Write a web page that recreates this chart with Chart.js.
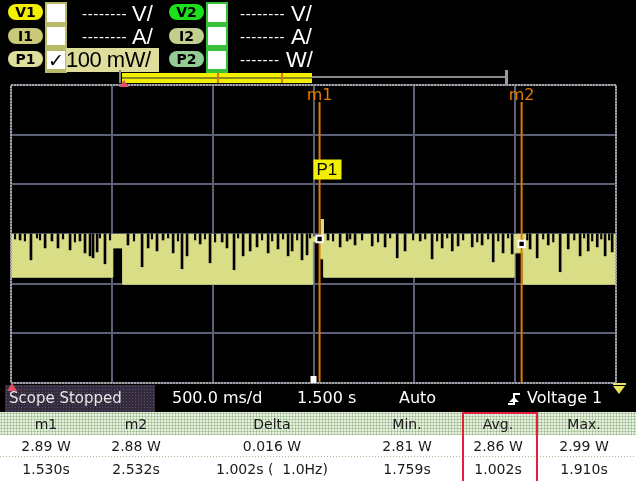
<!DOCTYPE html>
<html>
<head>
<meta charset="utf-8">
<script src="https://cdn.jsdelivr.net/npm/chart.js@4/dist/chart.umd.min.js"></script>
<style>
  html, body { margin: 0; padding: 0; background: #000; }
  #screen { position: relative; width: 636px; height: 481px; background: #000; overflow: hidden; font-family: "DejaVu Sans", sans-serif; }
  #scope { position: absolute; left: 0; top: 0; }
  .abs { position: absolute; }
  .pill { position: absolute; width: 35px; height: 16px; border-radius: 8px; font: bold 14px "DejaVu Sans", sans-serif; line-height: 16px; text-align: center; color: #000; }
  .chk { position: absolute; width: 18px; height: 18px; background: #fff; }
  .dash { position: absolute; color: #fff; font: 14px "DejaVu Sans", sans-serif; letter-spacing: 0.6px; line-height: 20px; }
  .unit { position: absolute; color: #fff; font: 22px "Liberation Sans", sans-serif; line-height: 22px; }
  .stat { position: absolute; top: 388px; color: #fff; font: 16px "DejaVu Sans", sans-serif; line-height: 20px; white-space: pre; }
  #table { position: absolute; left: 0; top: 412px; width: 636px; height: 69px; background: #fff; }
  .hdr { position: absolute; left: 0; top: 0; width: 636px; height: 23px;
         background-color: #e6eedf;
         background-image: radial-gradient(#94b884 0.9px, transparent 1.1px);
         background-size: 3px 3px; }
  .cell { position: absolute; width: 140px; margin-left: -70px; text-align: center; color: #1a1a1a; font: 14px "DejaVu Sans", sans-serif; line-height: 20px; white-space: pre; }
  .sep { position: absolute; left: 0; top: 44px; width: 636px; height: 1px;
         background-image: linear-gradient(90deg, #9fbf90 50%, transparent 50%); background-size: 3px 1px; }
</style>
</head>
<body>
<div id="screen">
  <canvas id="scope" width="636" height="481"></canvas>

  <!-- channel header -->
  <div class="pill" style="left:8px; top:4px; background:#f2f000;">V1</div>
  <div class="pill" style="left:8px; top:28px; background:#c9c979;">I1</div>
  <div class="pill" style="left:8px; top:51px; background:#dedd9c;">P1</div>
  <div class="abs" style="left:45px; top:2px; width:22px; height:71px; background:#b9b968;"></div>
  <div class="chk" style="left:47px; top:4px;"></div>
  <div class="chk" style="left:47px; top:27px;"></div>
  <div class="abs" style="left:66px; top:48px; width:93px; height:24px; background:#dedd9c;"></div>
  <div class="chk" style="left:47px; top:51px;"></div>
  <div class="abs" style="left:48px; top:49px; font:bold 19px 'DejaVu Sans'; line-height:22px; color:#000;">✓</div>
  <div class="abs" style="left:66px; top:49px; font:22px 'Liberation Sans'; line-height:22px; color:#000; letter-spacing:-0.5px;">100 mW/</div>
  <div class="dash" style="left:82px; top:4px;">--------</div>
  <div class="unit" style="left:132px; top:3px;">V/</div>
  <div class="dash" style="left:82px; top:27px;">--------</div>
  <div class="unit" style="left:132px; top:26px;">A/</div>

  <div class="pill" style="left:169px; top:4px; background:#1de01d;">V2</div>
  <div class="pill" style="left:169px; top:28px; background:#c3cf8c;">I2</div>
  <div class="pill" style="left:169px; top:51px; background:#92cc92;">P2</div>
  <div class="abs" style="left:206px; top:2px; width:22px; height:71px; background:#38c038;"></div>
  <div class="chk" style="left:208px; top:4px;"></div>
  <div class="chk" style="left:208px; top:27px;"></div>
  <div class="chk" style="left:208px; top:51px;"></div>
  <div class="dash" style="left:240px; top:4px;">--------</div>
  <div class="unit" style="left:291px; top:3px;">V/</div>
  <div class="dash" style="left:240px; top:27px;">--------</div>
  <div class="unit" style="left:291px; top:26px;">A/</div>
  <div class="dash" style="left:240px; top:50px;">-------</div>
  <div class="unit" style="left:286px; top:49px;">W/</div>

  <!-- record overview bar -->
  <div class="abs" style="left:119px; top:70px; width:2px; height:13px; background:#8a8a8a;"></div>
  <div class="abs" style="left:122px; top:73px; width:190px; height:10px; background:#f2f000;"></div>
  <div class="abs" style="left:122px; top:77px; width:190px; height:2px; background:#8a8a20;"></div>
  <div class="abs" style="left:217px; top:73px; width:2px; height:10px; background:#d87800;"></div>
  <div class="abs" style="left:281px; top:73px; width:2px; height:10px; background:#d87800;"></div>
  <div class="abs" style="left:312px; top:76px; width:194px; height:2px; background:#8a8a8a;"></div>
  <div class="abs" style="left:505px; top:70px; width:3px; height:15px; background:#9a9a9a;"></div>
  <div class="abs" style="left:119px; top:80px; width:0; height:0; border-left:5px solid transparent; border-right:5px solid transparent; border-bottom:7px solid #e05060;"></div>

  <!-- status line -->
  <div class="abs" style="left:5px; top:385px; width:150px; height:27px; background-color:#342c3e; background-image: radial-gradient(#5a5068 0.8px, transparent 1px); background-size:3px 3px;"></div>
  <div class="abs" style="left:7px; top:383px; width:0; height:0; border-left:5px solid transparent; border-right:5px solid transparent; border-bottom:8px solid #e05060;"></div>
  <div class="stat" style="left:9px; color:#e6e6e6; font-size:15px;">Scope Stopped</div>
  <div class="stat" style="left:172px;">500.0 ms/d</div>
  <div class="stat" style="left:297px;">1.500 s</div>
  <div class="stat" style="left:399px;">Auto</div>
  <!-- rising edge trigger symbol -->
  <div class="abs" style="left:508px; top:403px; width:6px; height:2px; background:#fff;"></div>
  <div class="abs" style="left:513px; top:393px; width:2px; height:12px; background:#fff;"></div>
  <div class="abs" style="left:513px; top:393px; width:7px; height:2px; background:#fff;"></div>
  <div class="abs" style="left:509px; top:397px; width:0; height:0; border-left:5px solid transparent; border-right:5px solid transparent; border-bottom:5px solid #fff;"></div>
  <div class="stat" style="left:527px;">Voltage 1</div>
  <div class="abs" style="left:613px; top:383px; width:13px; height:2px; background:#e8e060;"></div>
  <div class="abs" style="left:613px; top:386px; width:0; height:0; border-left:6px solid transparent; border-right:6px solid transparent; border-top:8px solid #e8e060;"></div>

  <!-- measurement table -->
  <div id="table">
    <div class="hdr"></div>
    <div class="sep"></div>
  </div>
  <div class="abs" style="left:462px; top:412px; width:72px; height:69px; border:2px solid #e0203c; border-bottom:none;"></div>
</div>

<script>
// time axis: 500 ms/div, 6 divisions
const timeRange = [0, 3.0];
// P1: 100 mW/div, 6 divisions
const powerRange = [2.6, 3.2];

// envelope of the captured power trace (W); each level holds until the next time
const bandTimes  = [0,     0.505, 0.555, 1.497, 1.535, 1.552, 2.495, 2.540, 3.0];
const bandTop    = [2.900, 2.900, 2.900, 2.895, 2.930, 2.900, 2.900, 2.900, 2.900];
const bandBottom = [2.813, 2.872, 2.799, 2.885, 2.850, 2.813, 2.862, 2.799, 2.799];

// deeper downward glitches on the top of the trace
const dipTimes = [0.045, 0.099, 0.169, 0.203, 0.233, 0.293, 0.342, 0.367, 0.392, 0.407,
                  0.427, 0.466, 0.580, 0.650, 0.680, 0.724, 0.754, 0.804, 0.848, 0.873,
                  0.938, 0.987, 1.047, 1.071, 1.106, 1.151, 1.186, 1.220, 1.275, 1.324,
                  1.374, 1.394, 1.443, 1.468, 1.572, 1.632, 1.667, 1.706, 1.791, 1.855,
                  1.915, 1.954, 2.029, 2.088, 2.138, 2.188, 2.217, 2.287, 2.336, 2.391,
                  2.440, 2.485, 2.574, 2.609, 2.664, 2.723, 2.763, 2.822, 2.862, 2.907,
                  2.946, 2.981];
const dipLevels = [2.888, 2.848, 2.872, 2.886, 2.872, 2.868, 2.886, 2.862, 2.856, 2.852,
                   2.864, 2.840, 2.878, 2.834, 2.872, 2.866, 2.888, 2.862, 2.830, 2.856,
                   2.880, 2.842, 2.884, 2.872, 2.828, 2.856, 2.866, 2.874, 2.862, 2.870,
                   2.856, 2.866, 2.848, 2.858, 2.888, 2.874, 2.886, 2.878, 2.876, 2.874,
                   2.852, 2.866, 2.886, 2.850, 2.872, 2.866, 2.876, 2.874, 2.878, 2.844,
                   2.862, 2.860, 2.870, 2.852, 2.878, 2.824, 2.870, 2.856, 2.866, 2.874,
                   2.856, 2.864];

// shallow glitches
const nickTimes = [0.020, 0.069, 0.129, 0.144, 0.258, 0.317, 0.441, 0.491, 0.610, 0.699,
                   0.779, 0.828, 0.913, 0.962, 1.012, 1.126, 1.245, 1.295, 1.349, 1.419,
                   1.483, 1.597, 1.682, 1.741, 1.820, 1.880, 1.994, 2.054, 2.113, 2.163,
                   2.242, 2.312, 2.366, 2.416, 2.465, 2.560, 2.639, 2.689, 2.793, 2.842,
                   2.882, 2.927, 2.966];
const nickLevels = [2.890, 2.886, 2.892, 2.888, 2.890, 2.884, 2.892, 2.888, 2.886, 2.890,
                    2.892, 2.886, 2.888, 2.890, 2.884, 2.892, 2.888, 2.886, 2.890, 2.888,
                    2.892, 2.886, 2.890, 2.888, 2.884, 2.892, 2.888, 2.890, 2.886, 2.892,
                    2.888, 2.884, 2.890, 2.886, 2.892, 2.888, 2.890, 2.884, 2.888, 2.892,
                    2.886, 2.890, 2.888];

// cursors
const markerNames  = ["m1", "m2"];
const markerTimes  = [1.530, 2.532];
const markerValues = [2.89, 2.88];
const cursorTopLevel = 3.166;
const triggerTime = 1.5;
const p1LabelLevel = 3.05;

// measurement table
const tableHeaders = ["m1", "m2", "Delta", "Min.", "Avg.", "Max."];
const tableValues  = ["2.89 W", "2.88 W", "0.016 W", "2.81 W", "2.86 W", "2.99 W"];
const tableTimes   = ["1.530s", "2.532s", "1.002s (  1.0Hz)", "1.759s", "1.002s", "1.910s"];
const tableCenters = [46, 136, 272, 407, 498, 584];

const traceColor = "#d9dd86";
const cursorColor = "#e07a00";

const table = document.getElementById("table");
[tableHeaders, tableValues, tableTimes].forEach(function (row, r) {
    row.forEach(function (txt, i) {
        const d = document.createElement("div");
        d.className = "cell";
        d.textContent = txt;
        d.style.left = tableCenters[i] + "px";
        d.style.top = [2, 24, 47][r] + "px";
        table.appendChild(d);
    });
});

// level held from one listed time to the next
function holdSteps(times, levels) {
    const pts = [];
    for (let i = 0; i < times.length - 1; i++) {
        pts.push({ x: times[i], y: levels[i] }, { x: times[i + 1], y: levels[i] });
    }
    return pts;
}

const scopeDecor = {
    id: "scopeDecor",
    afterDraw(chart) {
        const ctx = chart.ctx;
        const a = chart.chartArea;
        const x = chart.scales.x, y = chart.scales.y;
        ctx.save();
        // frame
        ctx.strokeStyle = "#a4a4a4";
        ctx.lineWidth = 2;
        ctx.setLineDash([2, 1]);
        ctx.strokeRect(a.left, a.top, a.right - a.left, a.bottom - a.top);
        ctx.setLineDash([]);
        // cursor names
        ctx.fillStyle = cursorColor;
        ctx.font = "16px 'DejaVu Sans'";
        ctx.textAlign = "center";
        ctx.textBaseline = "top";
        markerNames.forEach(function (n, i) {
            ctx.fillText(n, x.getPixelForValue(markerTimes[i]), a.top + 3);
        });
        // P1 reference label
        const px = x.getPixelForValue(triggerTime);
        const py = y.getPixelForValue(p1LabelLevel);
        ctx.fillStyle = "#f2f000";
        ctx.fillRect(px, py, 28, 20);
        ctx.fillStyle = "#000";
        ctx.font = "17px 'Liberation Sans'";
        ctx.textAlign = "left";
        ctx.fillText("P1", px + 3, py + 2);
        // trigger position
        ctx.fillStyle = "#fff";
        ctx.fillRect(px - 3, a.bottom - 7, 6, 7);
        ctx.restore();
    }
};

new Chart(document.getElementById("scope"), {
    type: "line",
    data: {
        datasets: [
            {
                type: "scatter",
                data: markerTimes.map((t, i) => ({ x: t, y: markerValues[i] })),
                pointStyle: "rect",
                pointRadius: 4.5,
                pointBackgroundColor: "#000",
                pointBorderColor: "#fff",
                pointBorderWidth: 2,
                order: 0,
            },
            ...markerTimes.map((t) => ({
                data: [{ x: t, y: cursorTopLevel }, { x: t, y: powerRange[0] }],
                borderColor: cursorColor,
                borderWidth: 2,
                pointRadius: 0,
                order: 1,
            })),
            {
                type: "bar",
                data: dipTimes.map((t, i) => ({ x: t, y: [dipLevels[i], 2.90] })),
                backgroundColor: "#000",
                barThickness: 2,
                grouped: false,
                order: 2,
            },
            {
                type: "bar",
                data: nickTimes.map((t, i) => ({ x: t, y: [nickLevels[i], 2.90] })),
                backgroundColor: "#000",
                barThickness: 1.5,
                grouped: false,
                order: 2,
            },
            {
                data: holdSteps(bandTimes, bandTop),
                borderWidth: 0,
                pointRadius: 0,
                tension: 0,
                backgroundColor: traceColor,
                fill: "+1",
                order: 3,
            },
            {
                data: holdSteps(bandTimes, bandBottom),
                borderColor: traceColor,
                borderWidth: 1,
                pointRadius: 0,
                tension: 0,
                fill: false,
                order: 4,
            },
        ],
    },
    options: {
        responsive: false,
        animation: false,
        events: [],
        layout: { padding: { left: 11, top: 85, right: 20, bottom: 98 } },
        plugins: { legend: { display: false }, tooltip: { enabled: false } },
        scales: {
            x: {
                type: "linear",
                offset: false,
                min: timeRange[0],
                max: timeRange[1],
                ticks: { display: false, stepSize: 0.5 },
                grid: { color: "#5c6074", lineWidth: 2, drawTicks: false, offset: false },
                border: { display: false },
            },
            y: {
                min: powerRange[0],
                max: powerRange[1],
                ticks: { display: false, stepSize: 0.1 },
                grid: { color: "#5c6074", lineWidth: 2, drawTicks: false },
                border: { display: false },
            },
        },
    },
    plugins: [scopeDecor],
});
</script>
</body>
</html>
